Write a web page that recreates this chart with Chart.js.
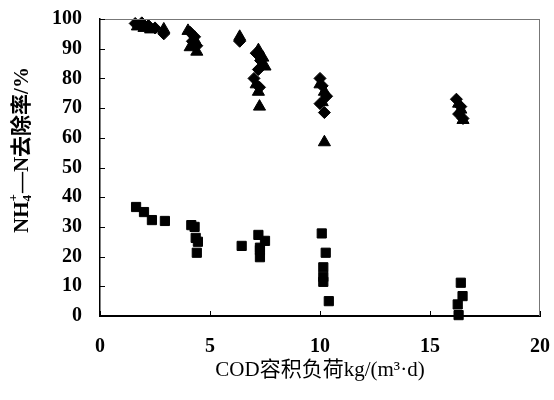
<!DOCTYPE html>
<html><head><meta charset="utf-8">
<script src="https://cdn.jsdelivr.net/npm/chart.js@4.4.0/dist/chart.umd.min.js"></script>
<style>html,body{margin:0;padding:0;background:#fff;}#wrap{width:554px;height:400px;}</style>
</head><body><div id="wrap"><canvas id="c" width="554" height="400"></canvas></div>
<script>
const xTicks = [0, 5, 10, 15, 20];
const yTicks = [0, 10, 20, 30, 40, 50, 60, 70, 80, 90, 100];

const diamondX = [1.6, 1.9, 2.2, 2.5, 2.9, 4.1, 4.3, 4.2, 4.4, 6.35, 7.1, 7.3, 7.2, 7.0, 7.25, 10.0, 10.1, 10.3, 10.0, 10.2, 16.2, 16.4, 16.3, 16.5];
const diamondY = [98.5, 98.7, 97.8, 97, 95, 95.5, 94, 92.5, 91, 92.5, 88.5, 86, 83, 80, 77, 80, 77.5, 74, 71.5, 68.5, 73, 70.5, 68, 66.5];

const triangleX = [1.7, 2.0, 2.3, 2.9, 4.0, 4.3, 4.1, 4.4, 6.35, 7.2, 7.4, 7.5, 7.1, 7.2, 7.25, 10.0, 10.2, 10.1, 10.2, 16.3, 16.4, 16.5];
const triangleY = [97.5, 97, 96.5, 96.5, 96, 93, 90.5, 89, 94, 89.5, 87, 84, 78, 75.5, 70.5, 78, 75.5, 72, 58.5, 71.5, 69.5, 66];

const squareX = [1.64, 2.0, 2.36, 2.95, 4.15, 4.3, 4.35, 4.45, 4.4, 6.44, 7.2, 7.5, 7.27, 7.27, 7.27, 10.08, 10.26, 10.15, 10.15, 10.15, 10.4, 16.4, 16.48, 16.26, 16.3];
const squareY = [36.7, 35, 32.3, 32, 30.6, 30, 26.3, 25, 21.3, 23.6, 27.3, 25.3, 23, 22.2, 19.8, 27.8, 21.3, 16.4, 13.2, 11.5, 5, 11.2, 6.7, 3.9, 0.3];

const xTitle = 'COD容积负荷kg/(m³·d)';
// y title pieces: main text, subscript, superscript, rest
const yTitleParts = ['NH', '4', '+', '—N去除率/%'];

function pts(xs, ys){ return xs.map((x,i)=>({x:x, y:ys[i]})); }

const FONT = "'Liberation Serif', 'Noto Sans CJK SC', serif";

const frame = {
  id:'frame',
  afterDraw(chart){
    const {ctx, chartArea:a, scales} = chart;
    ctx.save();
    ctx.strokeStyle = '#777';
    ctx.lineWidth = 1;
    ctx.beginPath();
    ctx.moveTo(a.left, a.top+0.5); ctx.lineTo(a.right, a.top+0.5);
    ctx.moveTo(a.right-0.5, a.top); ctx.lineTo(a.right-0.5, a.bottom);
    ctx.stroke();
    ctx.strokeStyle = '#000';
    ctx.beginPath();
    xTicks.forEach(v=>{ const px = Math.round(scales.x.getPixelForValue(v))+0.5; ctx.moveTo(px, a.bottom); ctx.lineTo(px, a.bottom-5); });
    yTicks.forEach(v=>{ const py = Math.round(scales.y.getPixelForValue(v))+0.5; ctx.moveTo(a.left, py); ctx.lineTo(a.left+5, py); });
    ctx.stroke();

    // y-axis title with subscript/superscript
    const big = "bold 21px " + FONT, small = "bold 13px " + FONT;
    ctx.fillStyle = '#000';
    ctx.textBaseline = 'middle';
    ctx.textAlign = 'left';
    ctx.font = big; const w0 = ctx.measureText(yTitleParts[0]).width;
    const w3 = ctx.measureText(yTitleParts[3]).width;
    ctx.font = small; const w1 = Math.max(ctx.measureText(yTitleParts[1]).width, ctx.measureText(yTitleParts[2]).width);
    const total = w0 + w1 + 1 + w3;
    ctx.translate(23, 150);
    ctx.rotate(-Math.PI/2);
    let x = -total/2;
    ctx.font = big; ctx.fillText(yTitleParts[0], x, 0); x += w0;
    ctx.font = small; ctx.fillText(yTitleParts[1], x, 5); ctx.fillText(yTitleParts[2], x, -9); x += w1 + 1;
    ctx.font = big; ctx.fillText(yTitleParts[3], x, 0);
    ctx.restore();
  }
};

new Chart(document.getElementById('c'), {
  type:'scatter',
  data:{ datasets:[
    {label:'d', data:pts(diamondX, diamondY), pointStyle:'rectRot', pointRadius:6, backgroundColor:'#000', borderColor:'#000', clip:false},
    {label:'t', data:pts(triangleX, triangleY), pointStyle:'triangle', pointRadius:7, backgroundColor:'#000', borderColor:'#000', clip:false},
    {label:'s', data:pts(squareX, squareY), pointStyle:'rect', pointRadius:6.5, backgroundColor:'#000', borderColor:'#000', clip:false}
  ]},
  options:{
    responsive:false, animation:false, devicePixelRatio:1,
    layout:{padding:{top:19, right:14, left:0, bottom:0}},
    plugins:{legend:{display:false}, tooltip:{enabled:false}},
    scales:{
      x:{type:'linear', min:0, max:20,
        afterBuildTicks(s){ s.ticks = xTicks.map(v=>({value:v})); },
        afterFit(s){ s.height = 84; s.paddingLeft = 0; s.paddingRight = 0; },
        grid:{display:true, drawOnChartArea:false, drawTicks:false},
        border:{display:true, color:'#000', width:2},
        ticks:{color:'#000', padding:19, font:{family:FONT, size:20, weight:'bold'}, maxRotation:0},
        title:{display:true, text:xTitle, color:'#000', font:{family:FONT, size:21}, padding:{top:4, bottom:17}}
      },
      y:{type:'linear', min:0, max:100,
        afterBuildTicks(s){ s.ticks = yTicks.map(v=>({value:v})); },
        afterFit(s){ s.width = 100; s.paddingTop = 0; s.paddingBottom = 0; },
        grid:{display:true, drawOnChartArea:false, drawTicks:false},
        border:{display:true, color:'#000', width:1.5},
        ticks:{color:'#000', padding:18, font:{family:FONT, size:20, weight:'bold'}},
        title:{display:false}
      }
    }
  },
  plugins:[frame]
});
</script></body></html>
